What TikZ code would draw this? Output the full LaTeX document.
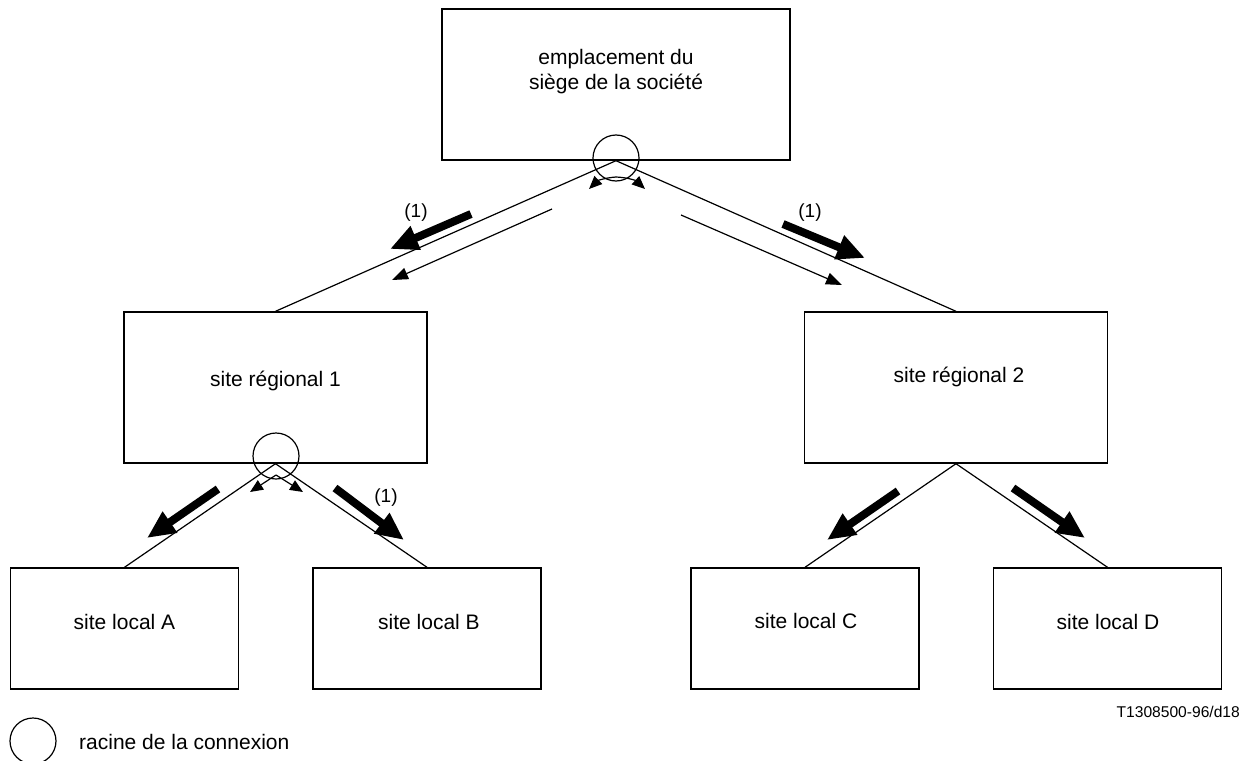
\documentclass[tikz,border=0pt]{standalone}
\usepackage{fontspec}
\setmainfont{Liberation Sans}
\usetikzlibrary{arrows.meta}
\begin{document}
\begin{tikzpicture}[x=1pt,y=-1pt,
  box/.style={draw,line width=1.4pt,inner sep=0pt},
  hq/.style={box,minimum width=348pt,minimum height=151pt},
  reg/.style={box,minimum width=303pt,minimum height=151pt},
  loc/.style={box,minimum width=228pt,minimum height=121pt},
  txt/.style={font=\fontsize{21}{25}\selectfont,align=center,inner sep=0pt},
  lbl/.style={font=\fontsize{19}{22}\selectfont,inner sep=0pt},
  root/.style={draw,circle,line width=1.2pt,minimum size=46pt,inner sep=0pt},
  link/.style={line width=1.2pt},
  thinarrow/.style={line width=1.2pt,-{Triangle[length=16pt,width=12pt]}},
  fatarrow/.style={line width=8pt,-{Triangle[length=28pt,width=24pt]}},
  turnarrow/.style={line width=1.2pt,-{Triangle[length=13pt,width=11pt]}}]
\useasboundingbox (0,0) rectangle (1249,760);
\fill[white] (0,0) rectangle (1249,760);

% boxes
\node[hq] (H) at (616,84.5) {};
\node[txt] (Ht) at (616,72) {emplacement du\\siège de la société};
\node[reg] (R1) at (275.5,387.5) {};
\node[txt] (R1t) at (275.5,381) {site régional 1};
\node[reg] (R2) at (956,387.5) {};
\node[txt] (R2t) at (959,377) {site régional 2};
\node[loc] (A) at (124.5,628.5) {};
\node[txt] (At) at (124.5,622) {site local A};
\node[loc] (B) at (427,628.5) {};
\node[txt] (Bt) at (429,622) {site local B};
\node[loc] (C) at (805,628.5) {};
\node[txt] (Ct) at (806,621) {site local C};
\node[loc] (D) at (1107.5,628.5) {};
\node[txt] (Dt) at (1108,622) {site local D};

% tree links
\draw[link] (H.south) -- (R1.north);
\draw[link] (H.south) -- (R2.north);
\draw[link] (R1.south) -- (A.north);
\draw[link] (R1.south) -- (B.north);
\draw[link] (R2.south) -- (C.north);
\draw[link] (R2.south) -- (D.north);

% roots
\node[root] (c1) at (616,158) {};
\node[root] (c2) at (276,456) {};

% turning arrows at the roots
\coordinate (k0) at (616,177);
\coordinate (kL) at (589,189);
\coordinate (kR) at (645,189);
\draw[turnarrow] (k0) to[bend right=20] (kL);
\draw[turnarrow] (k0) to[bend left=20] (kR);
\coordinate (m0) at (276,475);
\coordinate (mL) at (250,492);
\coordinate (mR) at (303,492);
\draw[turnarrow] (m0) -- (mL);
\draw[turnarrow] (m0) -- (mR);

% thin arrows
\coordinate (t1a) at (552,209); \coordinate (t1b) at (392,280);
\coordinate (t2a) at (681,215); \coordinate (t2b) at (842,285);
\draw[thinarrow] (t1a) -- (t1b);
\draw[thinarrow] (t2a) -- (t2b);

% fat arrows
\coordinate (f1a) at (471,214); \coordinate (f1b) at (390,249);
\coordinate (f2a) at (783,224); \coordinate (f2b) at (865,258);
\coordinate (f3a) at (218,489); \coordinate (f3b) at (147,538);
\coordinate (f4a) at (335,488); \coordinate (f4b) at (404,540);
\coordinate (f5a) at (898,491); \coordinate (f5b) at (827,540);
\coordinate (f6a) at (1013,488); \coordinate (f6b) at (1085,538);
\draw[fatarrow] (f1a) -- (f1b);
\draw[fatarrow] (f2a) -- (f2b);
\draw[fatarrow] (f3a) -- (f3b);
\draw[fatarrow] (f4a) -- (f4b);
\draw[fatarrow] (f5a) -- (f5b);
\draw[fatarrow] (f6a) -- (f6b);

% (1) labels
\node[lbl] (n1) at (416,213) {(1)};
\node[lbl] (n2) at (810,213) {(1)};
\node[lbl] (n3) at (386,498) {(1)};

% legend and reference
\node[root] (lg) at (33,741) {};
\node[txt,anchor=west] (lgt) at (79,742) {racine de la connexion};
\node[font=\fontsize{15.6}{18}\selectfont,anchor=east,inner sep=0pt] (ref) at (1240,712) {T1308500-96/d18};
\end{tikzpicture}
\end{document}
